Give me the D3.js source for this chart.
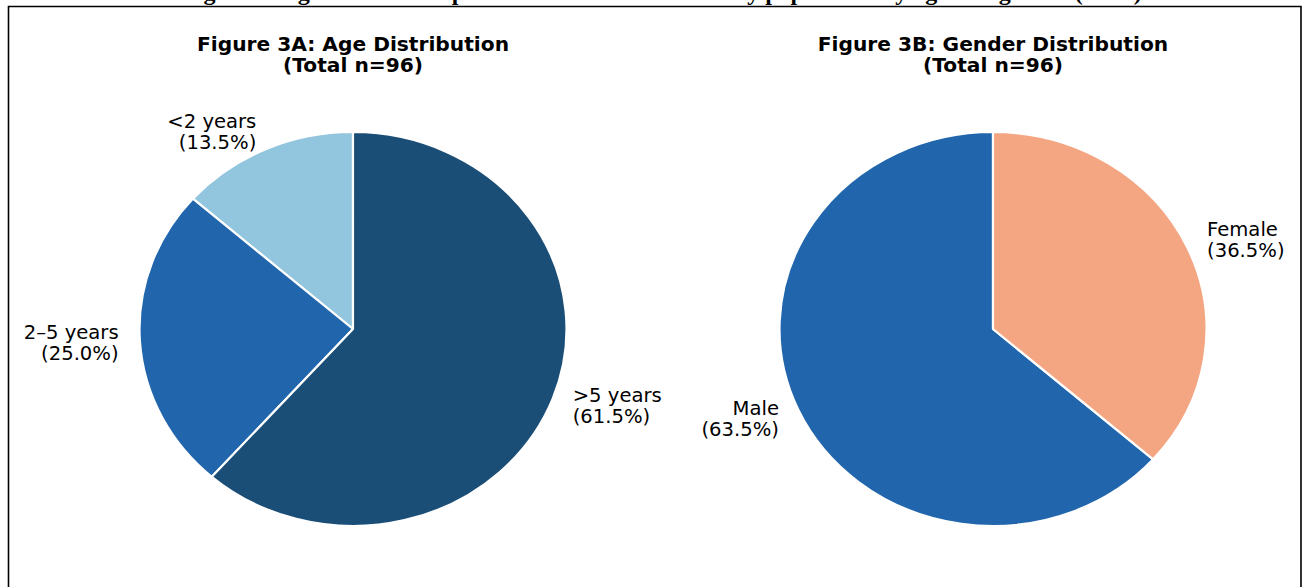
<!DOCTYPE html>
<html>
<head>
<meta charset="utf-8">
<script src="https://cdn.jsdelivr.net/npm/d3@7"></script>
<style>
  html, body { margin: 0; padding: 0; background: #fff; }
  svg { display: block; }
</style>
</head>
<body>
<svg id="chart" width="1304" height="587"></svg>
<script>
// Age groups (panel A)
const ageCategories = ["<2 years", "2–5 years", ">5 years"];
const agePercent = [13.5, 25.0, 61.5];
const ageColors = ["#92c5de", "#2166ac", "#1b4e77"];

// Gender (panel B)
const genderCategories = ["Male", "Female"];
const genderPercent = [63.5, 36.5];
const genderColors = ["#2166ac", "#f4a582"];

const totalN = 96;
const panelTitles = ["Figure 3A: Age Distribution", "Figure 3B: Gender Distribution"];
const figureCaption = "Figure 3: Age and sex composition of the recruited study population by age and gender (n=96)";

const svg = d3.select("#chart");
const W = 1304, H = 587;

// Figure caption (runs off the top edge)
svg.append("text")
  .attr("x", W / 2 + 10)
  .attr("y", 0)
  .attr("text-anchor", "middle")
  .attr("font-family", "'Liberation Serif', 'Times New Roman', serif")
  .attr("font-weight", "bold")
  .attr("font-size", 24)
  .attr("fill", "#000")
  .text(figureCaption);

// Frame around the figure
svg.append("path")
  .attr("d", `M8.5,${H + 2} V6.5 H1301 V${H + 2}`)
  .attr("fill", "none")
  .attr("stroke", "#000")
  .attr("stroke-width", 1.6);

const rx = 213.5, ry = 197;
const labelFont = "'DejaVu Sans', Verdana, sans-serif";

function drawPie(cx, cy, title, cats, vals, colors) {
  const g = svg.append("g");

  // Two-line bold title
  [title, `(Total n=${totalN})`].forEach((line, k) => {
    g.append("text")
      .attr("x", cx)
      .attr("y", 50.5 + k * 21.5)
      .attr("text-anchor", "middle")
      .attr("font-family", labelFont)
      .attr("font-weight", "bold")
      .attr("font-size", 20.2)
      .attr("fill", "#000")
      .text(line);
  });

  // Counter-clockwise slices starting at 12 o'clock
  const pie = d3.pie().sort(null).value(d => d).startAngle(0).endAngle(-2 * Math.PI);
  const arcs = pie(vals);
  const arc = d3.arc().innerRadius(0).outerRadius(ry);

  const slices = g.append("g")
    .attr("transform", `translate(${cx},${cy}) scale(${rx / ry},1)`);
  slices.selectAll("path")
    .data(arcs)
    .join("path")
    .attr("d", arc)
    .attr("fill", (d, i) => colors[i])
    .attr("stroke", "#fff")
    .attr("stroke-width", 2.2)
    .attr("stroke-linejoin", "round")
    .attr("vector-effect", "non-scaling-stroke");

  // Labels placed just outside the rim at each slice's mid-angle
  arcs.forEach((d, i) => {
    const mid = (d.startAngle + d.endAngle) / 2;
    const lx = cx + 1.1 * rx * Math.sin(mid);
    const ly = cy - 1.1 * ry * Math.cos(mid);
    const anchor = lx < cx ? "end" : "start";
    const lab = g.append("text")
      .attr("x", lx)
      .attr("y", ly - 3.5)
      .attr("text-anchor", anchor)
      .attr("font-family", labelFont)
      .attr("font-size", 19.6)
      .attr("fill", "#000");
    lab.append("tspan").attr("x", lx).attr("dy", 0).text(cats[i]);
    lab.append("tspan").attr("x", lx).attr("dy", 21).text(`(${vals[i].toFixed(1)}%)`);
  });
}

drawPie(353, 329, panelTitles[0], ageCategories, agePercent, ageColors);
drawPie(993, 329, panelTitles[1], genderCategories, genderPercent, genderColors);
</script>
</body>
</html>
